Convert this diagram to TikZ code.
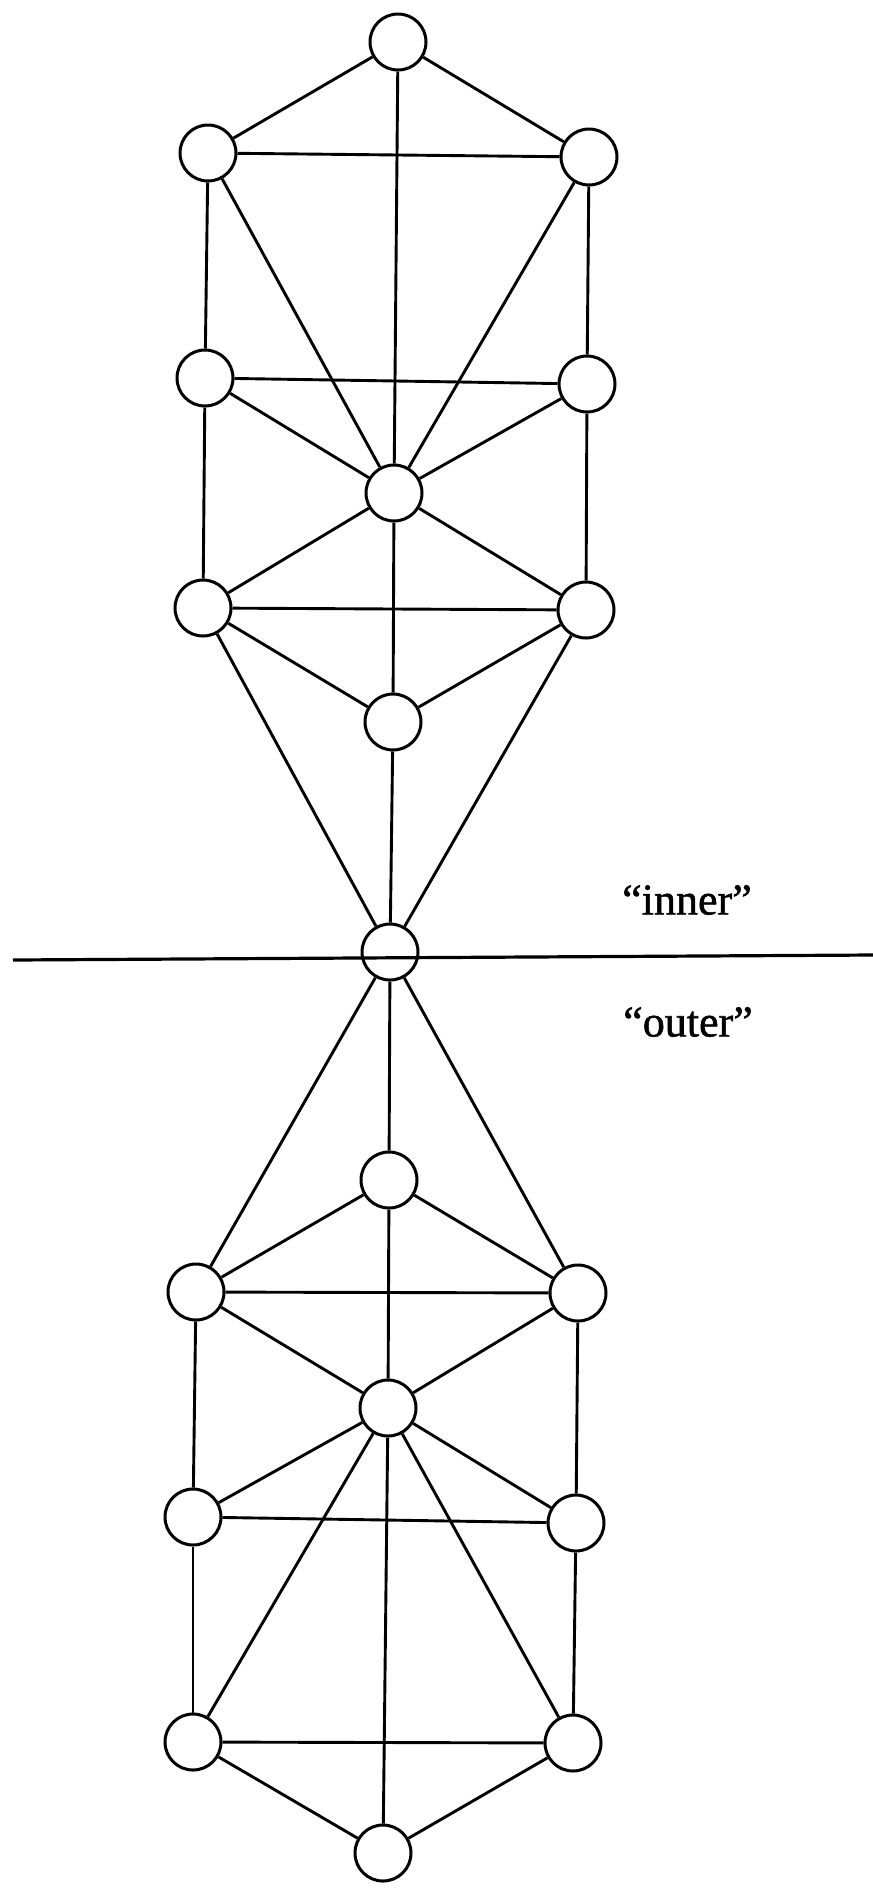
\documentclass[tikz,border=0pt]{standalone}
\usepackage{fontspec}
\setmainfont{Liberation Serif}
\newfontfamily\lblfont[Ligatures=TeX,FakeBold=1.2]{Liberation Serif}
\begin{document}
\begin{tikzpicture}[x=1pt,y=-1pt,
  vtx/.style={circle,draw,fill=white,line width=3pt,minimum size=56pt,inner sep=0pt},
  edge/.style={line width=2.9pt},
  lbl/.style={font=\lblfont\fontsize{44}{50}\selectfont}]
\useasboundingbox (0,0) rectangle (873,1888);
% upper half
\node[vtx] (T) at (398,42) {};
\node[vtx] (AL) at (208,153) {};
\node[vtx] (AR) at (589,157) {};
\node[vtx] (BL) at (205,378) {};
\node[vtx] (BR) at (587,384) {};
\node[vtx] (C) at (394,493) {};
\node[vtx] (DL) at (203,608) {};
\node[vtx] (DR) at (586,610) {};
\node[vtx] (S) at (393,722) {};
\node[vtx] (M) at (390,952) {};
% lower half
\node[vtx] (S2) at (389,1180) {};
\node[vtx] (DL2) at (196,1292) {};
\node[vtx] (DR2) at (578,1293) {};
\node[vtx] (C2) at (388,1408) {};
\node[vtx] (BL2) at (193,1517) {};
\node[vtx] (BR2) at (576,1523) {};
\node[vtx] (AL2) at (193,1742) {};
\node[vtx] (AR2) at (573,1743) {};
\node[vtx] (B) at (383,1853) {};
% edges upper
\draw[edge] (T) -- (AL);
\draw[edge] (T) -- (AR);
\draw[edge] (T) -- (C);
\draw[edge] (AL) -- (AR);
\draw[edge] (AL) -- (BL);
\draw[edge] (AR) -- (BR);
\draw[edge] (AL) -- (C);
\draw[edge] (AR) -- (C);
\draw[edge] (BL) -- (BR);
\draw[edge] (BL) -- (C);
\draw[edge] (BR) -- (C);
\draw[edge] (BL) -- (DL);
\draw[edge] (BR) -- (DR);
\draw[edge] (C) -- (DL);
\draw[edge] (C) -- (DR);
\draw[edge] (C) -- (S);
\draw[edge] (DL) -- (DR);
\draw[edge] (DL) -- (S);
\draw[edge] (DR) -- (S);
\draw[edge] (DL) -- (M);
\draw[edge] (DR) -- (M);
\draw[edge] (S) -- (M);
% edges lower
\draw[edge] (M) -- (S2);
\draw[edge] (M) -- (DL2);
\draw[edge] (M) -- (DR2);
\draw[edge] (S2) -- (DL2);
\draw[edge] (S2) -- (DR2);
\draw[edge] (S2) -- (C2);
\draw[edge] (DL2) -- (DR2);
\draw[edge] (DL2) -- (C2);
\draw[edge] (DR2) -- (C2);
\draw[edge] (DL2) -- (BL2);
\draw[edge] (DR2) -- (BR2);
\draw[edge] (BL2) -- (BR2);
\draw[edge] (BL2) -- (C2);
\draw[edge] (BR2) -- (C2);
\draw[edge] (BL2) -- (AL2);
\draw[edge] (BR2) -- (AR2);
\draw[edge] (C2) -- (AL2);
\draw[edge] (C2) -- (AR2);
\draw[edge] (C2) -- (B);
\draw[edge] (AL2) -- (AR2);
\draw[edge] (AL2) -- (B);
\draw[edge] (AR2) -- (B);
% boundary line
\coordinate (lineL) at (13,960);
\coordinate (lineR) at (873,955);
\draw[line width=3.2pt] (lineL) -- (lineR);
% labels
\node[lbl] (inner) at (687,900) {“inner”};
\node[lbl] (outer) at (688,1022) {“outer”};
\end{tikzpicture}
\end{document}
